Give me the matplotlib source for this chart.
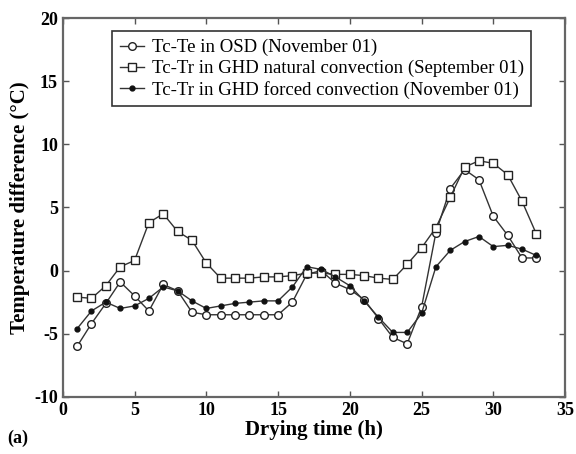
import matplotlib
matplotlib.use("Agg")
import matplotlib.pyplot as plt

plt.rcParams['font.family'] = ['Liberation Serif', 'DejaVu Serif']
plt.rcParams['axes.unicode_minus'] = False

hours = list(range(1, 34))

# Tc-Te in OSD (November 01)
osd = [-6.0, -4.2, -2.6, -0.9, -2.0, -3.2, -1.1, -1.6, -3.3, -3.5, -3.5,
       -3.5, -3.5, -3.5, -3.5, -2.5, -0.3, 0.0, -1.0, -1.5, -2.3, -3.8,
       -5.3, -5.8, -2.9, 3.0, 6.5, 8.0, 7.2, 4.3, 2.8, 1.0, 1.0]
# Tc-Tr in GHD natural convection (September 01)
ghd_nat = [-2.1, -2.2, -1.2, 0.3, 0.8, 3.8, 4.5, 3.1, 2.4, 0.6, -0.6,
           -0.6, -0.6, -0.5, -0.5, -0.4, -0.2, -0.2, -0.3, -0.3, -0.4, -0.6,
           -0.7, 0.5, 1.8, 3.4, 5.8, 8.2, 8.7, 8.5, 7.6, 5.5, 2.9]
# Tc-Tr in GHD forced convection (November 01)
ghd_forced = [-4.6, -3.2, -2.5, -3.0, -2.8, -2.2, -1.3, -1.6, -2.4, -3.0, -2.8,
              -2.6, -2.5, -2.4, -2.4, -1.3, 0.3, 0.1, -0.5, -1.2, -2.4, -3.7,
              -4.9, -4.9, -3.4, 0.3, 1.6, 2.3, 2.7, 1.9, 2.0, 1.7, 1.2]

labels = ['Tc-Te in OSD (November 01)',
          'Tc-Tr in GHD natural convection (September 01)',
          'Tc-Tr in GHD forced convection (November 01)']

fig = plt.figure(figsize=(5.76, 4.54), dpi=100)
ax = fig.add_axes([0.109, 0.126, 0.872, 0.834])

lc = '#333333'
ax.plot(hours, osd, '-o', color=lc, lw=1, ms=5.5, mfc='white', mec='#222222', mew=1, label=labels[0])
ax.plot(hours, ghd_nat, '-s', color=lc, lw=1, ms=5.5, mfc='white', mec='#222222', mew=1, label=labels[1])
ax.plot(hours, ghd_forced, '-o', color=lc, lw=1, ms=3.5, mfc='#111111', mec='#111111', label=labels[2])

ax.set_xlim(0, 35)
ax.set_ylim(-10, 20)
ax.set_xticks(range(0, 36, 5))
ax.set_yticks(range(-10, 21, 5))
ax.tick_params(direction='in', top=True, right=True, length=4, width=1, colors='#555555',
               labelcolor='black', labelsize=13)
for lab in ax.get_xticklabels() + ax.get_yticklabels():
    lab.set_fontweight('bold')
for sp in ax.spines.values():
    sp.set_color('#666666')
    sp.set_linewidth(1.6)

ax.set_xlabel('Drying time (h)', fontsize=15, fontweight='bold', labelpad=1)
ax.set_ylabel('Temperature difference (°C)', fontsize=15, fontweight='bold', labelpad=3)
fig.text(0.012, 0.025, '(a)', fontsize=13, fontweight='bold')

leg = ax.legend(loc='upper left', bbox_to_anchor=(0.08, 0.99), fontsize=13.5,
                handlelength=1.3, handletextpad=0.4, borderpad=0.4, labelspacing=0.2,
                fancybox=False, framealpha=1, edgecolor='#333333')
leg.get_frame().set_linewidth(1.2)

fig.savefig('out.png', dpi=100)
